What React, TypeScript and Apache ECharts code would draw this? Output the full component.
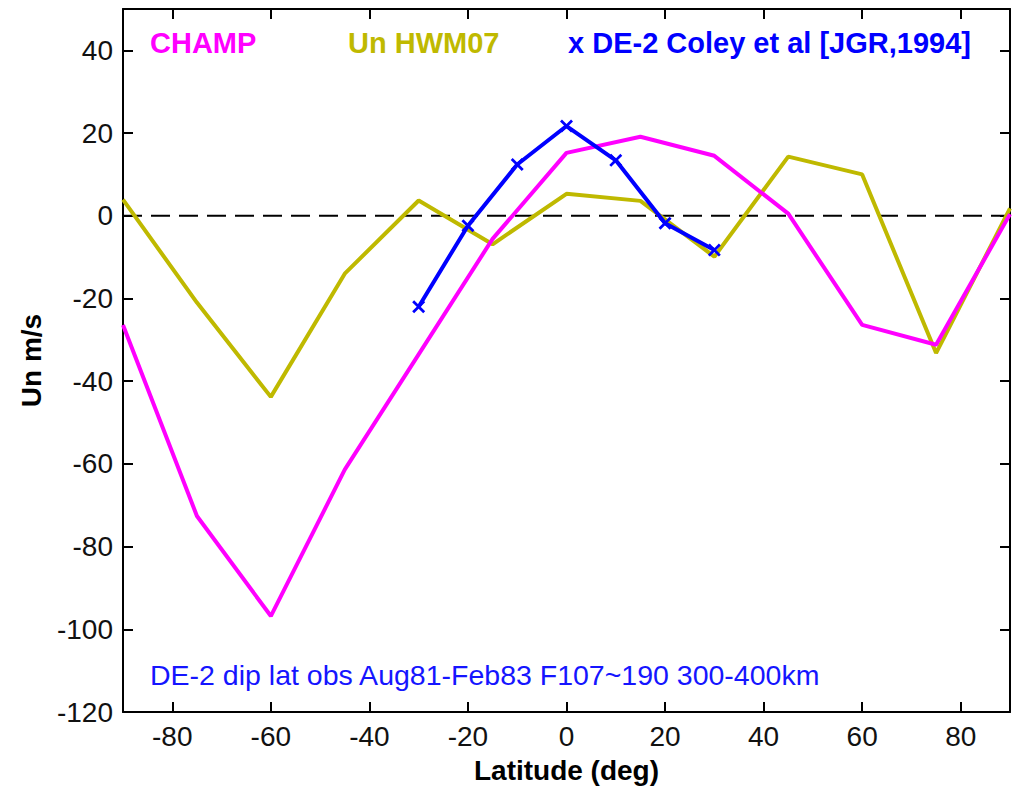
import React, { useEffect, useRef } from "react";
import * as echarts from "echarts";

const latitudes = [-90, -75, -60, -45, -30, -15, 0, 15, 30, 45, 60, 75, 90];
const champ = [-26.4, -72.6, -96.8, -61.4, -33.5, -5.6, 15.2, 19.1, 14.5, 0.5, -26.4, -31.2, 0.4];
const hwm07 = [3.9, -21, -43.8, -14, 3.7, -6.9, 5.3, 3.6, -9.9, 14.3, 10, -33.2, 1.8];
const de2Lat = [-30, -20, -10, 0, 10, 20, 30];
const de2 = [-22, -2.4, 12.4, 21.7, 13.4, -1.8, -8.3];
const xTicks = [-80, -60, -40, -20, 0, 20, 40, 60, 80];
const yTicks = [-120, -100, -80, -60, -40, -20, 0, 20, 40];
const zeroLine = [[-90, 0], [90, 0]];

const FONT = "Liberation Sans, Arial, Helvetica, sans-serif";
const MAGENTA = "#FF00FF";
const OLIVE = "#BFB900";
const BLUE = "#0000FF";

export default function App() {
  const ref = useRef<HTMLDivElement>(null);
  useEffect(() => {
    if (!ref.current) return;
    const chart = echarts.init(ref.current, undefined, { renderer: "svg" });
    const axisLine = { show: true, onZero: false, lineStyle: { color: "#000", width: 2 } };
    const tickX = { show: true, inside: true, length: 10, customValues: xTicks, lineStyle: { color: "#000", width: 2 } };
    const tickY = { show: true, inside: true, length: 10, customValues: yTicks, lineStyle: { color: "#000", width: 2 } };
    const option: any = {
      animation: false,
      backgroundColor: "#fff",
      grid: { left: 123, right: 20, top: 9, bottom: 78, containLabel: false },
      xAxis: [
        {
          type: "value",
          min: -90,
          max: 90,
          position: "bottom",
          axisLine,
          axisTick: tickX,
          splitLine: { show: false },
          axisLabel: { customValues: xTicks, color: "#111", fontSize: 28, fontFamily: FONT, margin: 10 },
          name: "Latitude (deg)",
          nameLocation: "middle",
          nameGap: 44,
          nameTextStyle: { color: "#000", fontSize: 28, fontWeight: "bold", fontFamily: FONT },
        },
        {
          type: "value",
          min: -90,
          max: 90,
          position: "top",
          axisLine,
          axisTick: tickX,
          splitLine: { show: false },
          axisLabel: { show: false },
        },
      ],
      yAxis: [
        {
          type: "value",
          min: -120,
          max: 50,
          position: "left",
          axisLine,
          axisTick: tickY,
          splitLine: { show: false },
          axisLabel: { customValues: yTicks, color: "#111", fontSize: 28, fontFamily: FONT, margin: 10 },
          name: "Un m/s",
          nameLocation: "middle",
          nameGap: 78,
          nameTextStyle: { color: "#000", fontSize: 28, fontWeight: "bold", fontFamily: FONT },
        },
        {
          type: "value",
          min: -120,
          max: 50,
          position: "right",
          axisLine,
          axisTick: tickY,
          splitLine: { show: false },
          axisLabel: { show: false },
        },
      ],
      series: [
        {
          type: "line",
          data: zeroLine,
          showSymbol: false,
          silent: true,
          lineStyle: { color: "#000", width: 2, type: [19, 9] },
        },
        {
          type: "line",
          name: "Un HWM07",
          data: latitudes.map((x, i) => [x, hwm07[i]]),
          showSymbol: false,
          lineStyle: { color: OLIVE, width: 4 },
        },
        {
          type: "line",
          name: "CHAMP",
          data: latitudes.map((x, i) => [x, champ[i]]),
          showSymbol: false,
          lineStyle: { color: MAGENTA, width: 4 },
        },
        {
          type: "line",
          name: "DE-2",
          data: de2Lat.map((x, i) => [x, de2[i]]),
          symbol: "path://M0,1.5L1.5,0L5,3.5L8.5,0L10,1.5L6.5,5L10,8.5L8.5,10L5,6.5L1.5,10L0,8.5L3.5,5Z",
          symbolSize: 13,
          itemStyle: { color: BLUE },
          lineStyle: { color: BLUE, width: 4 },
        },
      ],
      graphic: [
        {
          type: "text",
          left: 150,
          top: 28,
          style: { text: "CHAMP", fill: MAGENTA, fontSize: 29, fontWeight: "bold", fontFamily: FONT },
        },
        {
          type: "text",
          left: 348,
          top: 28,
          style: { text: "Un HWM07", fill: OLIVE, fontSize: 29, fontWeight: "bold", fontFamily: FONT },
        },
        {
          type: "text",
          left: 568,
          top: 28,
          style: { text: "x DE-2 Coley et al [JGR,1994]", fill: BLUE, fontSize: 29, fontWeight: "bold", fontFamily: FONT },
        },
        {
          type: "text",
          left: 150,
          top: 660,
          style: { text: "DE-2 dip lat obs Aug81-Feb83 F107~190 300-400km", fill: "#1515FF", fontSize: 28.5, fontFamily: FONT },
        },
      ],
    };
    chart.setOption(option);
    return () => chart.dispose();
  }, []);
  return <div ref={ref} style={{ width: 1030, height: 790, position: "absolute", left: 0, top: 0 }} />;
}
